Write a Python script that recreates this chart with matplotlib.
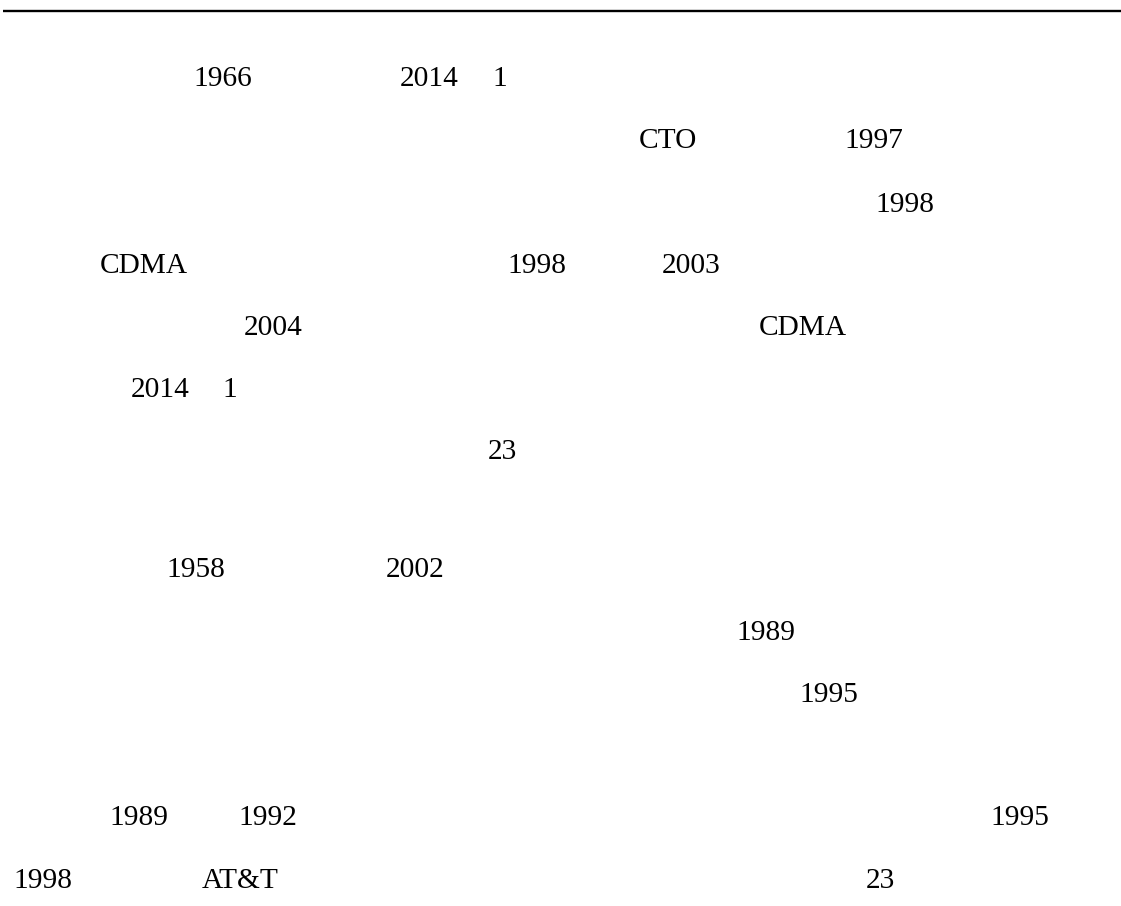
import matplotlib
matplotlib.use("Agg")
import matplotlib.pyplot as plt

# --- Page content (only the Latin fragments show; the CJK text did not render) ---
labels = ["1966", "2014", "1",
          "CTO", "1997",
          "1998",
          "CDMA", "1998", "2003",
          "2004", "CDMA",
          "2014", "1",
          "23",
          "1958", "2002",
          "1989",
          "1995",
          "1989", "1992", "1995",
          "1998", "AT&T", "23"]

# left edge / baseline of each fragment, in page pixels
pos_x = [193, 400, 492,
         639, 844,
         875,
         100, 507, 662,
         244, 759,
         131, 222,
         488,
         166, 386,
         736,
         799,
         109, 238, 990,
         13, 202, 866]
pos_y = [86, 86, 86,
         148, 148,
         212,
         273, 273, 273,
         335, 335,
         397, 397,
         459,
         577, 577,
         640,
         702,
         825, 825, 825,
         888, 888, 888]

W, H = 1121, 906

fig = plt.figure(figsize=(W / 100, H / 100), dpi=100)
ax = fig.add_axes([0, 0, 1, 1])
ax.set_xlim(0, W)
ax.set_ylim(H, 0)
ax.axis("off")

# header rule
ax.plot([3, W], [11, 11], color="black", lw=1.7, solid_capstyle="butt")

for txt, x, y in zip(labels, pos_x, pos_y):
    ax.text(x, y, txt, fontsize=21.2, family="Liberation Serif",
            ha="left", va="baseline", color="black")

fig.savefig("out.png", dpi=100, facecolor="white")
